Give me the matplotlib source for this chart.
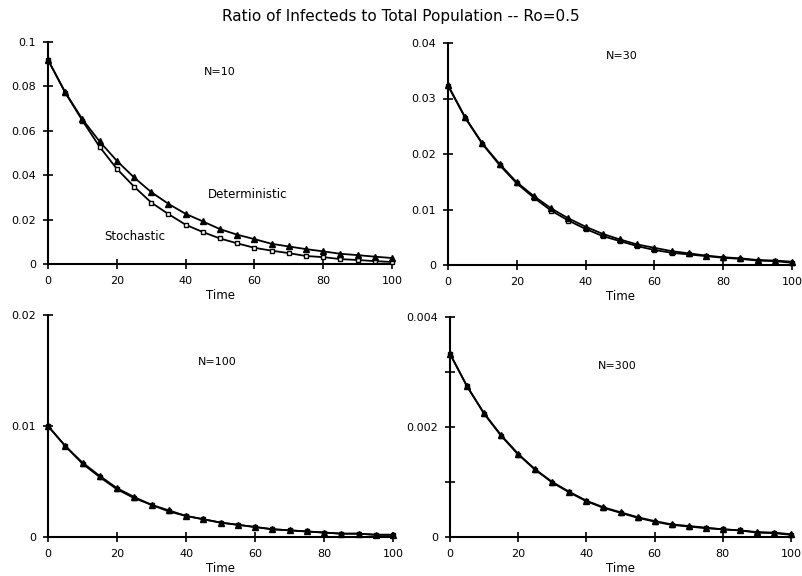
import matplotlib.pyplot as plt

# Donnees (t = 0, 5, ..., 100)
time = list(range(0, 101, 5))

det_10 = [0.0919, 0.0774, 0.0652, 0.0552, 0.0465, 0.0390, 0.0324, 0.0271, 0.0226, 0.0192, 0.0157,
          0.0132, 0.0112, 0.0091, 0.0079, 0.0067, 0.0057, 0.0046, 0.0040, 0.0033, 0.0027]
sto_10 = [0.0920, 0.0772, 0.0646, 0.0528, 0.0429, 0.0349, 0.0277, 0.0225, 0.0177, 0.0144, 0.0115,
          0.0093, 0.0073, 0.0060, 0.0049, 0.0036, 0.0031, 0.0022, 0.0018, 0.0013, 0.0009]

det_30 = [0.0324, 0.0266, 0.0219, 0.0182, 0.0149, 0.0124, 0.0102, 0.0084, 0.0069, 0.0056, 0.0046,
          0.0037, 0.0031, 0.0025, 0.0021, 0.0017, 0.0014, 0.0012, 0.0009, 0.0008, 0.0006]
sto_30 = [0.0323, 0.0265, 0.0218, 0.0180, 0.0147, 0.0121, 0.0098, 0.0080, 0.0065, 0.0052, 0.0043,
          0.0034, 0.0027, 0.0022, 0.0019, 0.0016, 0.0013, 0.0011, 0.0008, 0.0007, 0.0004]

det_100 = [0.0100, 0.0082, 0.0067, 0.0055, 0.0044, 0.0036, 0.0029, 0.0024, 0.0019, 0.0016, 0.0013,
           0.0011, 0.0009, 0.0007, 0.0006, 0.0005, 0.0004, 0.0003, 0.0003, 0.0002, 0.0002]
sto_100 = [0.0100, 0.0082, 0.0066, 0.0054, 0.0043, 0.0035, 0.0029, 0.0023, 0.0019, 0.0016, 0.0013,
           0.0011, 0.0009, 0.0007, 0.0006, 0.0005, 0.0004, 0.0003, 0.0003, 0.0002, 0.0002]

det_300 = [0.00333, 0.00274, 0.00225, 0.00185, 0.00151, 0.00123, 0.00100, 0.00082, 0.00066, 0.00054, 0.00045,
           0.00036, 0.00029, 0.00023, 0.00020, 0.00017, 0.00014, 0.00012, 0.00009, 0.00008, 0.00005]
sto_300 = [0.00333, 0.00274, 0.00224, 0.00184, 0.00150, 0.00122, 0.00099, 0.00081, 0.00065, 0.00053, 0.00044,
           0.00035, 0.00028, 0.00022, 0.00019, 0.00016, 0.00014, 0.00012, 0.00008, 0.00007, 0.00004]

panels = [
    # (position px gauche, haut, droite, bas), ymax, ticks, labels, series, texte N, pos texte
    ((48, 42, 392, 264), 0.1, [0, 0.02, 0.04, 0.06, 0.08, 0.1], ["0", "0.02", "0.04", "0.06", "0.08", "0.1"],
     det_10, sto_10, "N=10", (0.5, 0.865)),
    ((448, 43, 792, 265), 0.04, [0, 0.01, 0.02, 0.03, 0.04], ["0", "0.01", "0.02", "0.03", "0.04"],
     det_30, sto_30, "N=30", (0.504, 0.94)),
    ((48, 315, 393, 537), 0.02, [0, 0.01, 0.02], ["0", "0.01", "0.02"],
     det_100, sto_100, "N=100", (0.49, 0.79)),
    ((450, 317, 791, 537), 0.004, [0, 0.001, 0.002, 0.003, 0.004], ["0", "", "0.002", "", "0.004"],
     det_300, sto_300, "N=300", (0.49, 0.777)),
]

W, H = 802, 576
fig = plt.figure(figsize=(W / 100, H / 100), dpi=100, facecolor="white")

for (l, t, r, b), ymax, yt, ylab, det, sto, nlab, npos in panels:
    ax = fig.add_axes([l / W, 1 - b / H, (r - l) / W, (b - t) / H])
    ax.plot(time, sto, color="black", linewidth=1.3, marker="s", markersize=3.5,
            markerfacecolor="white", markeredgewidth=1.0, clip_on=False, zorder=3)
    ax.plot(time, det, color="black", linewidth=1.3, marker="^", markersize=4.5,
            markerfacecolor="black", clip_on=False, zorder=4)
    ax.set_xlim(0, 100)
    ax.set_ylim(0, ymax)
    ax.set_xticks([0, 20, 40, 60, 80, 100])
    ax.set_yticks(yt)
    ax.set_yticklabels(ylab)
    for s in ["top", "right"]:
        ax.spines[s].set_visible(False)
    for s in ["left", "bottom"]:
        ax.spines[s].set_linewidth(1.5)
    ax.tick_params(direction="inout", length=7, width=1.2, labelsize=8, pad=5)
    ax.set_xlabel("Time", fontsize=8.5, labelpad=2)
    ax.text(npos[0], npos[1], nlab, transform=ax.transAxes, ha="center", va="center", fontsize=8)
    if nlab == "N=10":
        ax.text(0.58, 0.315, "Deterministic", transform=ax.transAxes, ha="center", va="center", fontsize=8.5)
        ax.text(0.253, 0.122, "Stochastic", transform=ax.transAxes, ha="center", va="center", fontsize=8.5)

fig.text(0.5, 1 - 17 / H, "Ratio of Infecteds to Total Population -- Ro=0.5",
         ha="center", va="center", fontsize=11)

fig.savefig("out.png", dpi=100)
